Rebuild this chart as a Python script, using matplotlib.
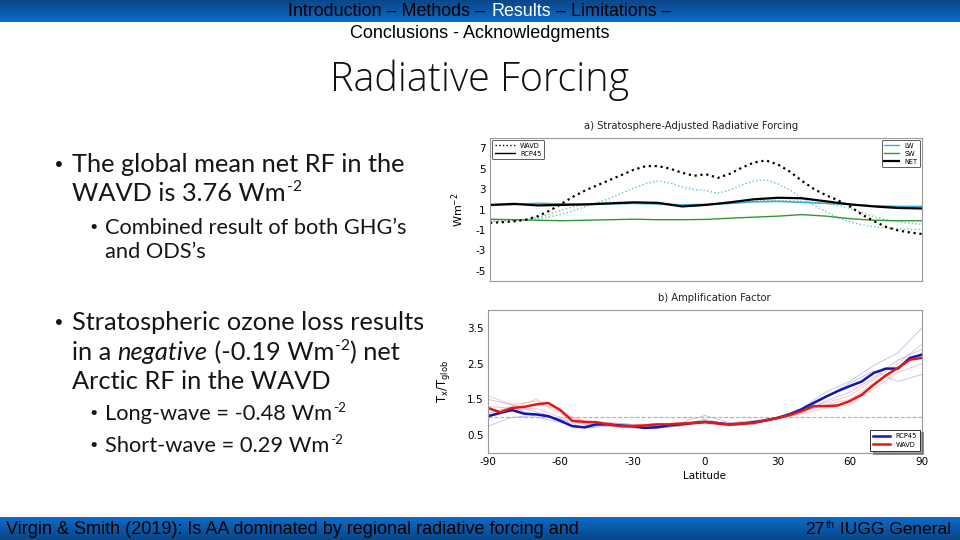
import numpy as np
import matplotlib
matplotlib.use('Agg')
import matplotlib.pyplot as plt
from matplotlib.lines import Line2D
from matplotlib.colors import LinearSegmentedColormap

# ---------------- data ----------------
lat5 = list(range(-90, 91, 5))
lat10 = list(range(-90, 91, 10))

# Panel a: stratosphere-adjusted radiative forcing (W m-2)
rcp_net = [1.45, 1.55, 1.4, 1.45, 1.5, 1.6, 1.7, 1.65, 1.3, 1.45, 1.7, 2.0, 2.15, 2.1, 1.8, 1.5, 1.3, 1.15, 1.1]
rcp_lw = [1.4, 1.5, 1.6, 1.55, 1.5, 1.55, 1.6, 1.55, 1.45, 1.5, 1.6, 1.75, 1.8, 1.7, 1.6, 1.5, 1.35, 1.3, 1.3]
rcp_sw = [0.05, 0.0, -0.05, -0.1, -0.05, 0.0, 0.05, 0.0, 0.0, 0.03, 0.15, 0.25, 0.35, 0.5, 0.35, 0.1, -0.05, -0.1, -0.1]

wavd_net = [-0.3, -0.25, -0.15, 0.0, 0.35, 0.9, 1.6, 2.3, 2.9, 3.4, 3.9, 4.4, 4.9, 5.25, 5.25, 5.0, 4.6, 4.3,
            4.45, 4.1, 4.5, 5.1, 5.6, 5.8, 5.4, 4.7, 3.8, 3.0, 2.4, 1.9, 1.3, 0.5, -0.15, -0.7, -1.05, -1.25, -1.4]
wavd_lw = [-0.15, -0.1, -0.1, -0.05, 0.1, 0.3, 0.55, 0.9, 1.3, 1.7, 2.1, 2.6, 3.1, 3.55, 3.8, 3.6, 3.2, 2.95,
           2.85, 2.6, 2.9, 3.4, 3.8, 3.9, 3.5, 2.9, 2.1, 1.4, 0.8, 0.2, -0.2, -0.5, -0.7, -0.8, -0.9, -0.95, -0.95]
wavd_sw = [-0.15, -0.15, -0.05, 0.05, 0.25, 0.55, 0.95, 1.3, 1.5, 1.6, 1.7, 1.7, 1.7, 1.65, 1.5, 1.45, 1.4, 1.35,
           1.5, 1.5, 1.6, 1.7, 1.8, 1.9, 1.9, 1.85, 1.8, 1.7, 1.6, 1.4, 1.1, 0.7, 0.3, 0.0, -0.2, -0.35, -0.45]

# Panel b: amplification factor (ensemble means, 5 deg)
rcp_af = [1.03, 1.12, 1.2, 1.1, 1.08, 1.03, 0.9, 0.75, 0.72, 0.8, 0.8, 0.77, 0.75, 0.7, 0.72, 0.77, 0.8, 0.84,
          0.87, 0.84, 0.8, 0.82, 0.86, 0.91, 0.98, 1.08, 1.22, 1.4, 1.57, 1.73, 1.87, 2.0, 2.24, 2.36, 2.36, 2.66, 2.75]
wavd_af = [1.26, 1.14, 1.26, 1.29, 1.36, 1.4, 1.2, 0.9, 0.87, 0.86, 0.8, 0.75, 0.75, 0.77, 0.8, 0.8, 0.82, 0.84,
           0.87, 0.83, 0.8, 0.82, 0.84, 0.91, 0.98, 1.06, 1.17, 1.31, 1.31, 1.33, 1.45, 1.63, 1.91, 2.17, 2.38, 2.61, 2.66]

# ensemble members (10 deg)
rcp_m1 = [0.75, 1.0, 1.05, 0.95, 0.7, 0.75, 0.72, 0.68, 0.78, 0.95, 0.78, 0.85, 0.98, 1.15, 1.55, 1.95, 2.3, 2.0, 2.2]
rcp_m2 = [1.5, 1.35, 1.15, 0.95, 0.8, 0.85, 0.8, 0.75, 0.85, 1.05, 0.85, 0.9, 1.0, 1.25, 1.7, 2.0, 2.45, 2.8, 3.5]
rcp_m3 = [1.1, 1.3, 1.0, 0.85, 0.68, 0.8, 0.7, 0.7, 0.75, 0.85, 0.75, 0.82, 0.95, 1.1, 1.45, 1.7, 2.1, 2.6, 2.9]
wavd_m1 = [1.6, 1.35, 1.45, 1.1, 0.9, 0.85, 0.8, 0.82, 0.85, 0.9, 0.82, 0.86, 1.0, 1.2, 1.4, 1.6, 2.05, 2.5, 3.05]
wavd_m2 = [1.0, 1.2, 1.25, 1.0, 0.82, 0.75, 0.7, 0.76, 0.78, 0.83, 0.76, 0.8, 0.95, 1.1, 1.25, 1.35, 1.8, 2.25, 2.5]
wavd_m3 = [1.3, 1.25, 1.5, 1.15, 0.88, 0.8, 0.78, 0.8, 0.8, 0.86, 0.8, 0.84, 0.97, 1.15, 1.35, 1.5, 1.95, 2.4, 2.8]

yticks_a = [-5, -3, -1, 1, 3, 5, 7]
yticks_b = [0.5, 1.5, 2.5, 3.5]
xticks_b = [-90, -60, -30, 0, 30, 60, 90]

# ---------------- fonts ----------------
plt.rcParams['mathtext.fontset'] = 'custom'
plt.rcParams['mathtext.rm'] = 'DejaVu Sans'
plt.rcParams['mathtext.it'] = 'DejaVu Sans:italic'
plt.rcParams['axes.unicode_minus'] = False

W, H = 960, 540
fig = plt.figure(figsize=(9.6, 5.4), dpi=100)
renderer = fig.canvas.get_renderer()

bg = fig.add_axes([0, 0, 1, 1], zorder=0)
bg.axis('off')

# gradient bars
hdr = LinearSegmentedColormap.from_list('hdr', ['#0a4688', '#0a6cc8'])
ftr = LinearSegmentedColormap.from_list('ftr', ['#0a6cc8', '#0a4688'])
grad = np.linspace(0, 1, 64).reshape(-1, 1)
bg.imshow(grad, cmap=hdr, extent=(0, W, 22, 0), aspect='auto', zorder=0)
bg.imshow(grad, cmap=ftr, extent=(0, W, H, 517), aspect='auto', zorder=0)
bg.set_xlim(0, W)
bg.set_ylim(H, 0)

narrow = ['Liberation Sans Narrow', 'Liberation Sans', 'DejaVu Sans']
TXT = '#151515'


def fitted(x, y, s, target_w, size0=12, ha='left', **kw):
    t = bg.text(x, y, s, fontsize=size0, ha=ha, **kw)
    w = t.get_window_extent(renderer).width
    t.set_fontsize(size0 * target_w / w)
    return t


def rich(x, yb, segs, size, family='Lato', color=TXT):
    """Draw text segments left to right on one baseline; kinds: n, it, sup."""
    px = size * 100 / 72
    for s, kind in segs:
        kw = dict(family=family, va='baseline', ha='left', color=color)
        if kind == 'sup':
            t = bg.text(x + 1, yb - px * 0.38, s, fontsize=size * 0.62, **kw)
            x += 1
        elif kind == 'it':
            t = bg.text(x, yb, s, fontsize=size, style='italic', **kw)
        else:
            t = bg.text(x, yb, s, fontsize=size, **kw)
        x += t.get_window_extent(renderer).width
    return x


# header line with coloured pieces
pieces = [('Introduction – Methods – ', 'black'), ('Results', 'white'), (' – Limitations –', 'black')]
ts = [bg.text(0, 11, s, color=c, fontsize=12, family=narrow, va='center', ha='left') for s, c in pieces]
ws = [t.get_window_extent(renderer).width for t in ts]
scale = 384 / sum(ws)
xpos = 288
for t, w in zip(ts, ws):
    t.set_fontsize(12 * scale)
    t.set_x(xpos)
    xpos += w * scale

fitted(480, 33, 'Conclusions - Acknowledgments', 259, ha='center', va='center', family=narrow)
fitted(480, 80, 'Radiative Forcing', 300, size0=28, ha='center', va='center',
       family=['Open Sans', 'Lato'], fontweight='light', color='#111111')

# footer
fitted(6, 529, 'Virgin & Smith (2019): Is AA dominated by regional radiative forcing and', 573,
       va='center', family=narrow)
x_end = 951
tmp = bg.text(0, 0, '27th IUGG General', fontsize=12, family=narrow)
f_size = 12 * 150 / tmp.get_window_extent(renderer).width
tmp.remove()
ftr_segs = [('27', 'n'), ('th', 'sup'), (' IUGG General', 'n')]
xs = rich(0, -100, ftr_segs, f_size, family=narrow, color='black')
for t in list(bg.texts)[-3:]:
    t.remove()
rich(x_end - xs, 534.5, ftr_segs, f_size, family=narrow, color='black')

# bullet text
ref = bg.text(0, 0, 'The global mean net RF in the', fontsize=16, family='Lato')
main_size = 16 * 335 / ref.get_window_extent(renderer).width
ref.remove()
ref = bg.text(0, 0, 'Combined result of both GHG’s', fontsize=14, family='Lato')
sub_size = 14 * 303 / ref.get_window_extent(renderer).width
ref.remove()

main_lines = [
    (172, [('The global mean net RF in the', 'n')], True),
    (201, [('WAVD is 3.76 Wm', 'n'), ('-2', 'sup')], False),
    (330, [('Stratospheric ozone loss results', 'n')], True),
    (360, [('in a ', 'n'), ('negative', 'it'), (' (-0.19 Wm', 'n'), ('-2', 'sup'), (') net', 'n')], False),
    (389, [('Arctic RF in the WAVD', 'n')], False),
]
for yb, segs, bul in main_lines:
    rich(72, yb, segs, main_size)
    if bul:
        bg.text(53, yb - 1, '•', fontsize=main_size * 0.8, family='DejaVu Sans', va='baseline', color=TXT)

sub_lines = [
    (234, [('Combined result of both GHG’s', 'n')], True),
    (258, [('and ODS’s', 'n')], False),
    (420, [('Long-wave = -0.48 Wm', 'n'), ('-2', 'sup')], True),
    (452, [('Short-wave = 0.29 Wm', 'n'), ('-2', 'sup')], True),
]
for yb, segs, bul in sub_lines:
    rich(105, yb, segs, sub_size)
    if bul:
        bg.text(88, yb - 1, '•', fontsize=sub_size * 0.8, family='DejaVu Sans', va='baseline', color=TXT)


def ax_rect(l, r, t, b):
    return [l / W, 1 - b / H, (r - l) / W, (b - t) / H]


tick_fs = 7.5
spine_c = '#9a9a9a'

# ---------------- panel a ----------------
axa = fig.add_axes(ax_rect(490, 922, 138, 281), zorder=2)
c_lw, c_sw = '#3aaed8', '#2e9a2e'
axa.plot(lat5, wavd_lw, color=c_lw, ls=':', lw=1.0, alpha=0.8)
axa.plot(lat5, wavd_sw, color='#6aae6a', ls=':', lw=1.0, alpha=0.8)
axa.plot(lat10, rcp_sw, color=c_sw, lw=1.0)
axa.plot(lat10, rcp_lw, color=c_lw, lw=1.2)
axa.plot(lat10, rcp_net, color='black', lw=1.6)
axa.plot(lat5, wavd_net, color='black', ls=':', lw=1.6)
axa.set_xlim(-90, 90)
axa.set_ylim(-6, 8)
axa.set_yticks(yticks_a)
axa.set_xticks([])
axa.tick_params(length=0, labelsize=tick_fs, pad=3)
for sp in axa.spines.values():
    sp.set_color(spine_c)
    sp.set_linewidth(0.8)
axa.set_ylabel('Wm$^{-2}$', fontsize=8, family='DejaVu Sans')
axa.yaxis.set_label_coords(-0.056, 0.5)
leg1 = axa.legend(handles=[Line2D([], [], color='black', ls=':', lw=1.0),
                           Line2D([], [], color='black', lw=1.0)],
                  labels=['WAVD', 'RCP45'], loc='upper left', fontsize=4.8, frameon=True,
                  edgecolor='#333333', fancybox=True, borderpad=0.4, handlelength=3.0,
                  labelspacing=0.3, borderaxespad=0.3)
leg1.get_frame().set_linewidth(0.7)
axa.add_artist(leg1)
leg2 = axa.legend(handles=[Line2D([], [], color=c_lw, lw=1.0),
                           Line2D([], [], color=c_sw, lw=1.0),
                           Line2D([], [], color='black', lw=1.6)],
                  labels=['LW', 'SW', 'NET'], loc='upper right', fontsize=4.8, frameon=True,
                  edgecolor='#333333', fancybox=True, borderpad=0.4, handlelength=2.2,
                  labelspacing=0.3, borderaxespad=0.3)
leg2.get_frame().set_linewidth(0.7)
fig.text(691 / W, 1 - 126 / H, 'a) Stratosphere-Adjusted Radiative Forcing', fontsize=7.2,
         ha='center', va='center', color='#222222', zorder=3)

# ---------------- panel b ----------------
axb = fig.add_axes(ax_rect(488, 922, 310, 453), zorder=2)
for m in (rcp_m1, rcp_m2, rcp_m3):
    axb.plot(lat10, m, color='#8a8ad8', lw=0.6, alpha=0.55)
for m in (wavd_m1, wavd_m2, wavd_m3):
    axb.plot(lat10, m, color='#ee8a8a', lw=0.6, alpha=0.55)
axb.axhline(1.0, color='#b0b0b0', ls='--', lw=0.8)
axb.plot(lat5, rcp_af, color='#1414b4', lw=1.8, label='RCP45')
axb.plot(lat5, wavd_af, color='#e01818', lw=1.8, label='WAVD')
axb.set_xlim(-90, 90)
axb.set_ylim(0, 4)
axb.set_yticks(yticks_b)
axb.set_xticks(xticks_b)
axb.tick_params(length=0, labelsize=tick_fs, pad=3)
for sp in axb.spines.values():
    sp.set_color(spine_c)
    sp.set_linewidth(0.8)
axb.set_ylabel('T$_\\mathrm{x}$/T$_\\mathrm{glob}$', fontsize=8.5, family='DejaVu Sans')
axb.yaxis.set_label_coords(-0.083, 0.5)
axb.set_xlabel('Latitude', fontsize=7.5, family='DejaVu Sans')
axb.xaxis.set_label_coords(0.5, -0.125)
leg3 = axb.legend(loc='lower right', fontsize=4.8, frameon=True, edgecolor='#333333',
                  fancybox=False, shadow=True, borderpad=0.5, handlelength=2.5,
                  labelspacing=0.4, borderaxespad=0.3)
leg3.get_frame().set_linewidth(0.7)
fig.text(714 / W, 1 - 298 / H, 'b) Amplification Factor', fontsize=7.2,
         ha='center', va='center', color='#222222', zorder=3)

fig.savefig('out.png', dpi=100)
